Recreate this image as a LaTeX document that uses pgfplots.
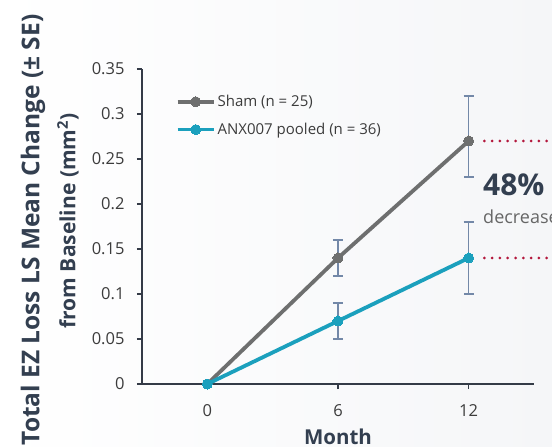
\documentclass[border=0pt]{standalone}
\usepackage{pgfplots}
\pgfplotsset{compat=1.18}
\usepackage{fontspec}
\setmainfont{Open Sans}
\definecolor{shamc}{HTML}{6E6F6F}
\definecolor{anxc}{HTML}{1BA0BD}
\definecolor{errc}{HTML}{7388A8}
\definecolor{axc}{HTML}{343B47}
\definecolor{labc}{HTML}{333F50}
\definecolor{tickc}{HTML}{3C3C3C}
\definecolor{redd}{HTML}{B3173C}
\definecolor{bgc}{HTML}{F5F6F8}
\begin{document}
\begin{tikzpicture}
\useasboundingbox (-142pt,-63pt) rectangle (410pt,384pt);
\clip (-142pt,-63pt) rectangle (410pt,384pt);
\shade[left color=white, right color=bgc] (-142pt,-63pt) rectangle (410pt,384pt);
\begin{axis}[
  at={(0,0)}, anchor=south west,
  scale only axis, width=392pt, height=315pt,
  xmin=-3, xmax=15, ymin=0, ymax=0.35,
  axis x line=bottom, axis y line=left,
  axis line style={-, line width=1.4pt, color=axc},
  xtick={0,6,12}, ytick={0,0.05,0.1,0.15,0.2,0.25,0.3,0.35},
  tick align=outside, major tick length=5pt,
  tick style={line width=1.2pt, color=axc},
  /pgf/number format/assume math mode=true,
  yticklabel style={/pgf/number format/fixed, /pgf/number format/precision=2, font=\fontsize{16.5}{18}\selectfont, text=tickc, xshift=-9pt},
  xticklabel style={font=\fontsize{16.5}{18}\selectfont, text=tickc, yshift=-12pt},
  xlabel={\textbf{Month}},
  xlabel style={font=\fontsize{20.5}{22}\selectfont, text=labc, yshift=-5pt},
  clip=false,
  legend style={at={(0.078,0.93)}, anchor=north west, draw=none, fill=none,
    font=\fontsize{15}{17}\selectfont, text=tickc, row sep=11pt,
    /tikz/every even column/.append style={column sep=0pt}},
  legend cell align=left,
  legend image code/.code={\draw[mark repeat=2,mark phase=2,#1] plot coordinates {(0pt,0pt) (18pt,0pt) (36pt,0pt)};},
]
% error bars
\addplot[forget plot, draw=none, mark=none, error bars/.cd, y dir=both, y explicit,
  error bar style={color=errc, line width=1.4pt}, error mark options={rotate=90, mark size=5pt, color=errc, line width=1.4pt}]
  coordinates {(6,0.14) +- (0,0.02) (12,0.27) += (0,0.05) -= (0,0.04)};
\addplot[forget plot, draw=none, mark=none, error bars/.cd, y dir=both, y explicit,
  error bar style={color=errc, line width=1.4pt}, error mark options={rotate=90, mark size=5pt, color=errc, line width=1.4pt}]
  coordinates {(6,0.07) +- (0,0.02) (12,0.14) += (0,0.04) -= (0,0.04)};
% lines
\addplot[color=shamc, line width=3.8pt, mark=*, mark size=5pt, mark options={line width=0pt, fill=shamc}]
  coordinates {(0,0) (6,0.14) (12,0.27)};
\addlegendentry{Sham (n = 25)}
\addplot[color=anxc, line width=3.8pt, mark=*, mark size=5pt, mark options={line width=0pt, fill=anxc}]
  coordinates {(0,0) (6,0.07) (12,0.14)};
\addlegendentry{ANX007 pooled (n = 36)}
% dotted reference lines
\addplot[forget plot, color=redd, line width=3pt, line cap=round, dash pattern=on 0pt off 7.8pt, mark=none]
  coordinates {(12.72,0.27) (16.2,0.27)};
\addplot[forget plot, color=redd, line width=3pt, line cap=round, dash pattern=on 0pt off 7.8pt, mark=none]
  coordinates {(12.72,0.14) (16.2,0.14)};
\node[anchor=west, font=\fontsize{30}{32}\selectfont\bfseries, text=labc, inner sep=0pt] at (axis cs:12.66,0.221) {48\%};
\node[anchor=west, font=\fontsize{18}{20}\selectfont, text=black!60, inner sep=0pt] at (axis cs:12.66,0.186) {decrease};
\end{axis}
\node[rotate=90, font=\fontsize{24.5}{26}\selectfont\bfseries, text=labc] at (-109pt,154pt) {Total EZ Loss LS Mean Change (± SE)};
\node[rotate=90, font=\fontsize{21}{23}\selectfont\bfseries, text=labc] at (-74pt,163pt) {from Baseline (mm\textsuperscript{2})};
\end{tikzpicture}
\end{document}
